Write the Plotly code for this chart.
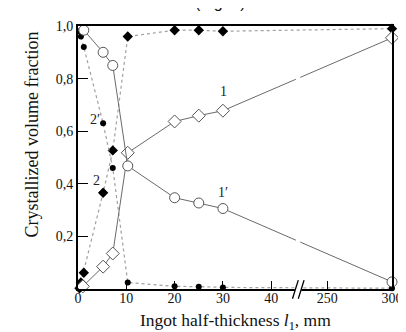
import plotly.graph_objects as go

# ---- data (x in mm, y = crystallized volume fraction) ----
x_1 = [1.0, 5.2, 7.2, 10.3, 20, 25, 30, 300]
y_1 = [0.01, 0.085, 0.135, 0.518, 0.637, 0.659, 0.678, 0.955]

x_1p = [1.2, 5.2, 7.2, 10.3, 20, 25, 30, 300]
y_1p = [0.984, 0.90, 0.85, 0.468, 0.347, 0.327, 0.306, 0.027]

x_2 = [0.3, 0.6, 1.2, 5.2, 7.2, 10.3, 20, 25, 30, 300]
y_2 = [0.003, 0.025, 0.062, 0.366, 0.527, 0.96, 0.984, 0.984, 0.98, 0.99]

x_2p = [0.3, 0.6, 1.2, 5.2, 7.2, 10.3, 20, 25, 30, 300]
y_2p = [0.98, 0.96, 0.92, 0.63, 0.46, 0.025, 0.01, 0.009, 0.006, 0.003]

x_ticks = [0, 10, 20, 30, 40, 250, 300]
x_tick_labels = ["0", "10", "20", "30", "40", "250", "300"]
y_ticks = [0.2, 0.4, 0.6, 0.8, 1.0]
y_tick_labels = ["0,2", "0,4", "0,6", "0,8", "1,0"]

curve_labels = ["1", "1′", "2′", "2"]
curve_label_x = [30.1, 30.1, 3.5, 3.9]
curve_label_y = [0.75, 0.366, 0.645, 0.414]


# broken x axis: 0..40 linear, then 250..300 compressed
def tx(v):
    return v if v <= 40 else 40 + 11.6 + (v - 250) * 0.268


def txs(vals):
    return [tx(v) for v in vals]


FONT = "Liberation Serif"
fig = go.Figure()

fig.add_trace(go.Scatter(
    x=txs(x_2), y=y_2, mode="lines+markers",
    line=dict(color="#a0a0a0", width=1.2, dash="3px,3px"),
    marker=dict(symbol="diamond", size=8, color="black"),
    cliponaxis=False, showlegend=False))
fig.add_trace(go.Scatter(
    x=txs(x_2p), y=y_2p, mode="lines+markers",
    line=dict(color="#a0a0a0", width=1.2, dash="3px,3px"),
    marker=dict(symbol="circle", size=6, color="black"),
    cliponaxis=False, showlegend=False))
fig.add_trace(go.Scatter(
    x=txs(x_1), y=y_1, mode="lines+markers",
    line=dict(color="#6a6a6a", width=1),
    marker=dict(symbol="diamond", size=10, color="white",
                line=dict(color="#555555", width=1)),
    cliponaxis=False, showlegend=False))
fig.add_trace(go.Scatter(
    x=txs(x_1p), y=y_1p, mode="lines+markers",
    line=dict(color="#6a6a6a", width=1),
    marker=dict(symbol="circle", size=10, color="white",
                line=dict(color="#555555", width=1)),
    cliponaxis=False, showlegend=False))

for t, xx, yy in zip(curve_labels, curve_label_x, curve_label_y):
    fig.add_annotation(x=xx, y=yy, text=t, showarrow=False,
                       font=dict(family=FONT, size=14, color="#222"))

# plot area in pixels: x 70..395, y 13..281
L, R, T, B = 70, 395, 13, 281


def px(p):
    return (p - L) / (R - L)


def py(p):
    return (B - p) / (B - T)


# gap in the lines at the axis break
fig.add_shape(type="rect", xref="paper", yref="paper",
              x0=px(295.5), x1=px(300), y0=0.1, y1=0.9,
              fillcolor="white", line=dict(width=0), layer="above")
# axis break mark
fig.add_shape(type="rect", xref="paper", yref="paper",
              x0=px(294.5), x1=px(301), y0=py(283.5), y1=py(278.5),
              fillcolor="white", line=dict(width=0), layer="above")
for x0 in (292, 298):
    fig.add_shape(type="line", xref="paper", yref="paper",
                  x0=px(x0), y0=py(291), x1=px(x0 + 6), y1=py(272),
                  line=dict(color="black", width=1.3), layer="above")

# axis titles
fig.add_annotation(xref="paper", yref="paper", x=0.5, y=py(314),
                   text="Ingot half-thickness <i>l</i><sub>1</sub>, mm",
                   showarrow=False, yanchor="middle",
                   font=dict(family=FONT, size=17.5, color="#111"))
fig.add_annotation(xref="paper", yref="paper", x=px(22), y=py(124),
                   text="Crystallized volume fraction", textangle=-90,
                   showarrow=False, xanchor="center", yanchor="middle",
                   font=dict(family=FONT, size=18, color="#111"))
# clipped caption at top
fig.add_annotation(xref="paper", yref="paper", x=px(218), y=py(0),
                   text="(Fig. 3)", showarrow=False, yanchor="bottom",
                   font=dict(family="Liberation Sans", size=16, color="#111"))

fig.update_xaxes(range=[0, 65], tickmode="array", tickvals=txs(x_ticks),
                 ticktext=x_tick_labels, ticks="inside", ticklen=8,
                 tickwidth=1.3, tickcolor="black", showline=True,
                 linecolor="black", linewidth=1.8, mirror=True,
                 showgrid=False, zeroline=False, ticklabelstandoff=-5,
                 tickfont=dict(family=FONT, size=14, color="#111"))
fig.update_yaxes(range=[0, 1], tickmode="array", tickvals=y_ticks,
                 ticktext=y_tick_labels, ticks="inside", ticklen=10,
                 tickwidth=1.3, tickcolor="black", showline=True,
                 linecolor="black", linewidth=1.8, mirror=True,
                 showgrid=False, zeroline=False,
                 tickfont=dict(family=FONT, size=14, color="#111"))

fig.update_layout(width=406, height=332,
                  margin=dict(l=L, r=406 - R, t=T, b=332 - B),
                  paper_bgcolor="white", plot_bgcolor="white")

fig.write_html("out.html")
